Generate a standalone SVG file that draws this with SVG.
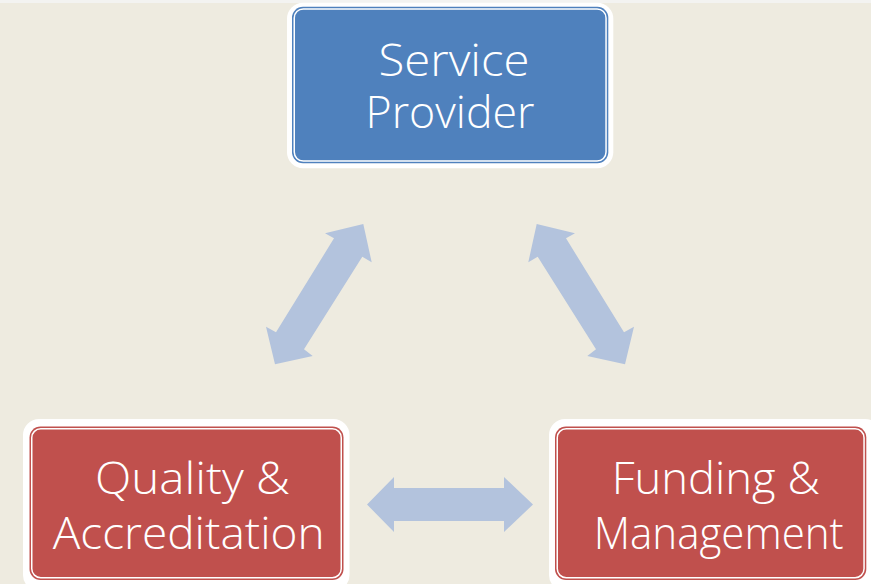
<svg xmlns="http://www.w3.org/2000/svg" width="871" height="584" viewBox="0 0 871 584">
  <style>
    .frame { fill: #FFFFFF; }
    .inner { fill: none; stroke: #FFFFFF; stroke-width: 1.5; }
    .blue { fill: #4F81BD; }
    .red { fill: #C0504D; }
    .arrow { fill: #B3C3DD; }
    .label { font-family: "Open Sans", "Noto Sans", sans-serif; font-weight: 300; font-size: 45px; fill: #FFFFFF; text-anchor: middle; }
  </style>
  <rect x="0" y="0" width="871" height="584" fill="#EEEBE0"/>
  <rect x="0" y="0" width="871" height="3" fill="#F3F3F1"/>

  <g id="connectors">
    <polygon class="arrow" points="363.3,224 371.7,262.3 362.3,256.7 304,349.3 312.7,356 275,364.3 266,326.7 276,332.3 334,238.3 325,233.3"/>
    <polygon class="arrow" points="536.7,224 528.3,262.3 537.7,256.7 596,349.3 587.3,356 625,364.3 634,326.7 624,332.3 566,238.3 575,233.3"/>
    <polygon class="arrow" points="367,504.5 394,477 394,488 504,488 504,477 533,504.5 504,532 504,521 394,521 394,532"/>
  </g>

  <g id="service-provider">
    <rect class="frame" x="287" y="2.7" width="326.3" height="165.6" rx="16"/>
    <rect class="blue" x="292" y="6.7" width="316.3" height="156.6" rx="11"/>
    <rect class="inner" x="294.25" y="8.95" width="311.8" height="152.1" rx="9"/>
    <text class="label" x="454" y="76" textLength="151" lengthAdjust="spacingAndGlyphs">Service</text>
    <text class="label" x="450" y="128" textLength="169" lengthAdjust="spacingAndGlyphs">Provider</text>
  </g>

  <g id="quality-accreditation">
    <rect class="frame" x="23" y="419" width="326.5" height="172" rx="16"/>
    <rect class="red" x="29.5" y="426.5" width="314" height="153.5" rx="11"/>
    <rect class="inner" x="31.75" y="428.75" width="309.5" height="149" rx="9"/>
    <text class="label" x="192.5" y="494" textLength="195" lengthAdjust="spacingAndGlyphs">Quality &amp;</text>
    <text class="label" x="188.7" y="548.5" textLength="272" lengthAdjust="spacingAndGlyphs">Accreditation</text>
  </g>

  <g id="funding-management">
    <rect class="frame" x="549" y="419" width="332" height="172" rx="16"/>
    <rect class="red" x="555" y="426.5" width="311.3" height="153.5" rx="11"/>
    <rect class="inner" x="557.25" y="428.75" width="306.8" height="149" rx="9"/>
    <text class="label" x="715.8" y="494" textLength="208" lengthAdjust="spacingAndGlyphs">Funding &amp;</text>
    <text class="label" x="718.7" y="548.5" textLength="250" lengthAdjust="spacingAndGlyphs">Management</text>
  </g>
</svg>
